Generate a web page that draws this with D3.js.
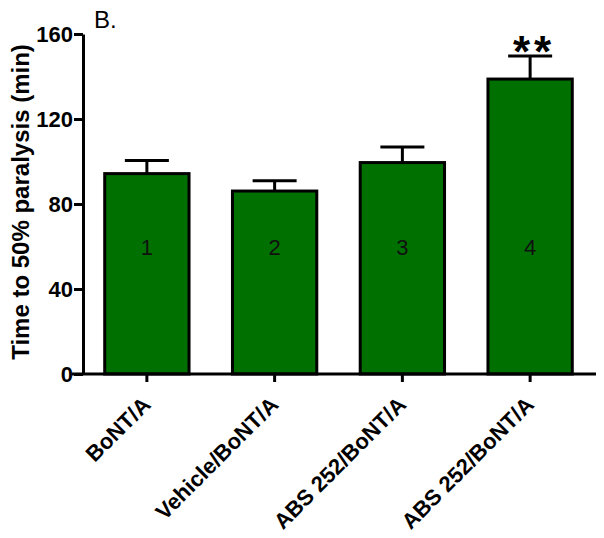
<!DOCTYPE html>
<html>
<head>
    <meta charset="utf-8">
    <style>
        body { margin: 0; background: white; }
        svg { display: block; font-family: 'Liberation Sans', Arial, sans-serif; }
    </style>
</head>
<body>
    <svg id="chart" width="604" height="538"></svg>
<script src="https://d3js.org/d3.v7.min.js"></script>
<script>
    // data
    let groups = ["BoNT/A", "Vehicle/BoNT/A", "ABS 252/BoNT/A", "ABS 252/BoNT/A "]
    let numbers = ["1", "2", "3", "4"]
    let means = [94.3, 86.1, 99.5, 138.8]
    let sems = [6.2, 4.8, 7.3, 10.8]
    let stars = ["", "", "", "**"]
    let yTicks = [0, 40, 80, 120, 160]

    let svg = d3.select("#chart")
    let mLeft = 83, mRight = 594, mTop = 34, mBottom = 374

    let x = d3.scaleBand()
        .domain(groups)
        .range([mLeft, mRight])
        .paddingInner(0.34)
        .paddingOuter(0.17)

    let y = d3.scaleLinear()
        .domain([0, 160])
        .range([mBottom, mTop])

    // bars
    svg.append("g")
        .selectAll("rect")
        .data(groups)
        .join("rect")
        .attr("x", d => x(d))
        .attr("y", (d, i) => y(means[i]))
        .attr("width", x.bandwidth())
        .attr("height", (d, i) => y(0) - y(means[i]))
        .attr("fill", "#007000")
        .attr("stroke", "black")
        .attr("stroke-width", 3)

    // error bars (upper only)
    let err = svg.append("g")
        .attr("stroke", "black")
        .attr("stroke-width", 3)
    groups.forEach((g, i) => {
        let cx = x(g) + x.bandwidth() / 2
        err.append("line")
            .attr("x1", cx).attr("x2", cx)
            .attr("y1", y(means[i])).attr("y2", y(means[i] + sems[i]))
        err.append("line")
            .attr("x1", cx - 22).attr("x2", cx + 22)
            .attr("y1", y(means[i] + sems[i])).attr("y2", y(means[i] + sems[i]))
    })

    // numbers inside bars
    svg.append("g")
        .selectAll("text")
        .data(groups)
        .join("text")
        .attr("x", d => x(d) + x.bandwidth() / 2)
        .attr("y", 255)
        .attr("text-anchor", "middle")
        .attr("font-size", 22)
        .attr("fill", "#111")
        .text((d, i) => numbers[i])

    // significance stars
    svg.append("g")
        .selectAll("text")
        .data(groups)
        .join("text")
        .attr("x", d => x(d) + x.bandwidth() / 2 + 4)
        .attr("y", (d, i) => y(means[i] + sems[i]) + 11)
        .attr("text-anchor", "middle")
        .attr("font-size", 44)
        .attr("font-weight", "bold")
        .attr("letter-spacing", 4)
        .text((d, i) => stars[i])

    // y axis
    let yAxis = svg.append("g")
        .attr("transform", `translate(${mLeft},0)`)
        .call(d3.axisLeft(y).tickValues(yTicks).tickSize(9).tickSizeOuter(0).tickPadding(1))
    yAxis.select(".domain").attr("stroke-width", 3)
    yAxis.selectAll(".tick line").attr("stroke-width", 3)
    yAxis.selectAll(".tick text")
        .attr("font-size", 22)
        .attr("font-weight", "bold")
        .attr("font-family", "'Liberation Sans', Arial, sans-serif")
        .attr("fill", "black")

    // x axis
    let xAxis = svg.append("g")
        .attr("transform", `translate(0,${mBottom})`)
        .call(d3.axisBottom(x).tickSize(8).tickSizeOuter(0).tickFormat(""))
    xAxis.select(".domain").attr("stroke-width", 3).attr("d", `M${mLeft - 11},0H${mRight + 2}`)
    xAxis.selectAll(".tick line").attr("stroke-width", 3)

    svg.append("g")
        .selectAll("text")
        .data(groups)
        .join("text")
        .attr("transform", d => `translate(${x(d) + x.bandwidth() / 2 + 5},${mBottom + 32}) rotate(-45)`)
        .attr("text-anchor", "end")
        .attr("font-size", 22)
        .attr("font-weight", "bold")
        .text(d => d.trim())

    // y label
    svg.append("text")
        .attr("transform", `translate(29,202) rotate(-90)`)
        .attr("text-anchor", "middle")
        .attr("font-size", 24)
        .attr("font-weight", "bold")
        .text("Time to 50% paralysis (min)")

    // panel letter
    svg.append("text")
        .attr("x", 94)
        .attr("y", 28)
        .attr("font-size", 24)
        .text("B.")
</script>
</body>
</html>
